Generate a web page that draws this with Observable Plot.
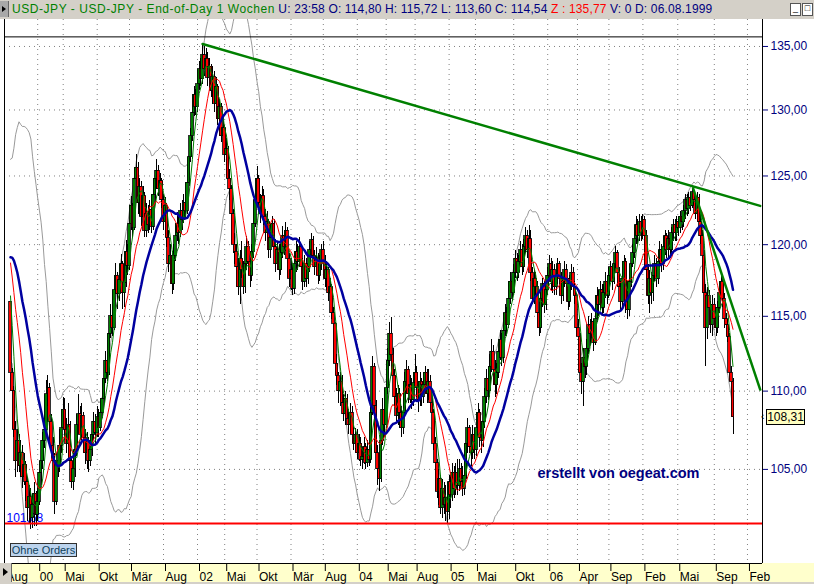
<!DOCTYPE html>
<html><head><meta charset="utf-8">
<script src="https://cdn.jsdelivr.net/npm/d3@7"></script>
<script src="https://cdn.jsdelivr.net/npm/@observablehq/plot@0.6"></script>
<style>
body{margin:0;background:#fff;}
#wrap{position:relative;width:814px;height:584px;overflow:hidden;font-family:"Liberation Sans",Arial,sans-serif;background:#fff;}
#hdr{position:absolute;left:0;top:0;width:814px;height:19px;background:#d4d0c8;font-size:12px;line-height:18px;white-space:nowrap;}
#hdr .btn{position:absolute;left:0;top:1px;width:8px;height:16px;background:#a8a8a8;border-right:1px solid #666;}
#hdr .btn:after{content:"";position:absolute;left:2px;top:5px;border-left:4px solid #000;border-top:3px solid transparent;border-bottom:3px solid transparent;}
#hdr .txt{position:absolute;left:12px;top:0;letter-spacing:0.15px;}
#hdr .txt .g{letter-spacing:0.55px;}
.g{color:#008000}.n{color:#000080}.r{color:#ff0000}
#hdr .wb{position:absolute;top:3px;width:9px;height:11px;background:#fff;border:1px solid #555;font-size:9px;line-height:9px;text-align:center;}
#band{position:absolute;left:0;top:563px;width:814px;height:19px;background:#ffffcc;}
#band2{position:absolute;left:0;top:582px;width:814px;height:2px;background:#d4d0c8;}
#lbtn{position:absolute;left:0;top:563px;width:11px;height:19px;background:#d4d0c8;border-right:1px solid #666;}
#lbtn:after{content:"";position:absolute;left:3px;top:5px;border-left:5px solid #000;border-top:4px solid transparent;border-bottom:4px solid transparent;}
#chart{position:absolute;left:0;top:19px;}
#orders{position:absolute;left:10px;top:543px;width:65px;height:12px;background:#bcd4ee;border:1px solid #303030;font-size:11px;line-height:12px;text-align:center;color:#10405a;}
#last{position:absolute;left:766px;width:39px;height:16px;background:#ffffc0;border:1px solid #000;font-size:12px;line-height:14px;text-align:center;color:#000;box-sizing:border-box;}
#arrow{position:absolute;left:761px;font-size:10px;line-height:10px;color:#000;}
</style></head>
<body>
<div id="wrap">
  <div id="band"></div><div id="band2"></div>
  <div id="chart"></div>
  <div id="lbtn"></div>
  <div id="hdr"><div class="btn"></div>
    <div class="txt"><span class="g">USD-JPY - USD-JPY - End-of-Day 1 Wochen</span> <span class="n">U: 23:58 O: 114,80 H: 115,72 L: 113,60 C: 114,54</span> <span class="r">Z : 135,77</span> <span class="n">V: 0 D: 06.08.1999</span></div>
    <div class="wb" style="left:790px">_</div><div class="wb" style="left:802px">□</div>
  </div>
  <div id="orders">Ohne Orders</div>
</div>
<script>
// ---- data (weekly USD-JPY) ----
// weeks before the first visible bar (only used by the moving averages / bands)
const preCloses = [110.6,113.0,115.6,118.4,120.6,124.0,123.4,119.6,120.2,121.0,119.8,121.6,125.7,
                   122.8,121.6,120.4,118.6,117.9,119.8,121.4,118.6,120.2,117.8,116.8,116.0];
const closes = [
111.2,110.0,107.5,105.5,106.8,105.2,106.0,104.5,105.3,104.2,
102.6,103.3,102.0,102.8,103.5,102.2,103.0,104.8,105.5,106.8,
107.5,109.8,110.2,108.0,106.5,105.5,103.0,105.5,105.2,106.5,
107.6,108.8,107.5,106.6,107.8,105.5,104.2,105.0,106.2,107.8,
108.5,107.2,108.4,107.0,106.0,106.8,105.5,106.2,107.2,108.0,
107.3,108.3,107.6,108.6,109.5,110.8,112.0,111.2,113.8,115.0,
114.2,116.8,117.8,116.5,117.5,118.6,116.6,117.3,119.5,118.5,
121.5,122.8,121.2,124.8,125.6,123.0,124.2,122.0,123.5,121.0,
122.2,121.4,122.5,121.3,123.6,124.8,125.4,124.0,124.6,123.2,
121.6,122.8,120.5,118.6,119.2,117.2,119.2,120.6,121.5,120.8,
122.4,121.8,123.0,122.4,124.5,126.4,128.0,129.8,131.2,130.2,
132.0,133.2,132.4,134.3,133.2,134.0,132.5,133.4,131.5,132.6,
130.5,131.8,129.3,130.2,128.0,128.6,126.6,127.0,124.8,124.0,
122.2,120.0,119.5,118.4,117.0,119.0,118.2,117.0,118.6,119.8,
118.8,117.8,119.5,121.5,123.2,124.8,123.0,122.2,123.5,122.0,
120.8,121.6,119.6,120.5,121.5,119.8,118.6,119.6,118.2,119.4,
120.6,119.8,121.0,119.0,117.6,118.2,116.9,118.6,119.5,118.8,
119.8,118.4,117.4,118.6,117.6,118.4,119.6,120.3,119.2,118.4,
119.0,117.8,118.6,119.6,118.8,117.6,118.2,116.6,117.0,115.2,
114.5,111.8,111.0,110.0,110.6,109.2,108.5,109.5,108.2,107.8,
108.6,107.2,106.6,107.2,106.0,106.6,105.6,105.8,106.4,105.4,
106.2,105.6,108.6,111.6,109.0,106.0,105.0,104.4,106.8,108.8,
107.8,110.2,112.0,113.8,112.4,111.0,109.6,108.4,109.8,108.6,
107.6,108.6,110.6,111.4,109.8,110.4,109.4,110.5,111.2,110.2,
109.4,110.6,109.6,110.4,111.2,109.8,110.6,109.2,108.6,106.6,
105.4,103.6,104.4,102.6,103.8,102.8,103.2,102.4,104.2,103.4,
104.8,103.8,104.8,104.0,105.0,104.2,103.8,104.6,106.6,107.6,
106.4,106.0,107.2,106.2,107.6,108.6,107.0,106.8,108.0,109.6,
110.8,110.0,111.6,112.6,111.4,110.4,111.2,112.6,113.4,112.2,
114.0,115.2,114.4,116.2,117.4,116.6,118.0,119.0,118.0,118.8,
119.6,118.4,119.8,120.6,119.6,120.4,118.0,116.2,117.6,117.0,
115.2,114.2,116.2,117.2,115.8,116.8,117.8,118.6,117.4,118.2,
117.0,117.8,118.6,117.6,116.4,117.4,118.2,117.2,116.0,117.2,
118.0,117.0,116.4,114.2,113.6,111.2,110.6,112.2,111.6,112.8,
114.4,113.8,114.6,113.2,114.8,116.4,115.8,116.8,115.6,116.6,
117.4,116.4,117.8,118.4,117.4,118.6,119.4,118.0,117.0,116.0,
117.6,118.8,116.0,115.4,117.4,118.6,119.4,120.4,121.4,120.6,
121.6,120.8,121.8,120.6,118.2,116.4,117.6,116.6,117.8,118.6,
117.6,118.8,119.6,118.6,119.8,120.6,119.6,120.4,119.6,120.8,
121.4,120.8,121.6,121.2,122.0,121.6,122.4,123.2,122.6,123.4,
122.8,123.8,123.2,122.2,123.4,121.6,120.6,119.2,116.6,114.2,
116.4,115.6,114.4,115.8,114.8,114.2,115.6,116.6,117.4,116.2,
114.8,114.4,113.6,111.2,110.6,108.31];
const highs = [
112.0,111.5,110.3,108.0,107.5,107.2,106.8,106.5,106.0,105.5,
104.5,104.0,103.8,103.5,104.2,103.6,103.8,105.3,106.0,107.3,
108.2,110.7,111.0,110.5,108.5,107.0,106.0,106.0,106.5,107.5,
108.2,109.6,109.5,108.2,109.2,108.0,105.8,105.5,106.8,108.5,
109.8,109.0,109.2,108.6,107.5,107.3,107.0,107.0,107.8,108.6,
108.5,109.0,108.8,109.2,110.2,111.4,112.6,112.4,114.5,115.8,
115.5,117.5,118.7,118.0,118.2,119.3,118.8,118.0,120.3,120.0,
122.0,123.5,123.0,125.5,126.6,126.0,124.8,124.6,124.2,123.8,
123.0,122.8,123.2,123.0,124.0,125.4,126.2,125.8,125.2,124.8,
123.6,123.4,123.0,121.0,120.0,119.5,120.0,121.2,122.3,122.0,
123.0,123.2,123.6,123.8,125.0,127.0,128.6,130.5,131.8,131.6,
132.6,133.8,134.0,135.2,135.0,134.8,134.5,134.0,133.6,133.4,
133.0,132.5,132.0,130.8,130.5,129.4,128.8,127.8,127.2,125.5,
124.3,122.5,120.8,120.0,119.0,119.6,120.2,118.8,119.4,120.6,
120.2,119.4,120.0,122.0,123.8,125.7,125.0,123.6,124.2,124.0,
122.5,122.4,121.8,121.2,122.0,121.8,120.4,120.2,120.0,120.0,
121.3,121.0,121.6,121.2,119.4,119.0,118.6,119.2,120.2,120.0,
120.5,120.0,119.0,119.2,119.0,119.0,120.2,120.8,120.6,119.6,
119.8,119.4,119.2,120.0,120.2,119.2,118.8,118.4,117.6,117.2,
115.6,114.6,112.4,111.2,111.2,111.0,109.8,110.0,109.8,108.8,
109.2,109.0,107.8,107.6,107.5,107.2,107.0,106.4,107.0,106.6,
106.8,106.6,109.4,112.3,111.8,109.4,106.5,105.6,107.4,109.5,
109.4,110.8,112.8,114.6,114.9,112.8,111.4,110.2,110.4,110.2,
109.0,109.2,111.2,112.0,111.6,111.0,110.8,111.2,112.4,111.6,
110.6,111.2,110.8,111.2,111.6,111.4,111.4,111.0,109.6,108.8,
107.0,105.6,105.0,104.6,104.4,104.2,104.0,103.6,104.6,104.8,
105.4,105.2,105.4,105.6,105.6,105.4,105.2,105.2,107.2,108.2,
107.8,107.0,107.8,107.6,108.2,109.2,108.8,107.6,108.6,110.2,
111.4,111.2,112.4,113.4,113.0,112.0,111.8,113.2,114.0,113.8,
114.6,115.8,115.6,116.8,118.0,118.0,118.6,119.6,119.4,119.2,
120.2,120.0,120.4,121.2,121.0,121.4,121.0,118.4,118.2,118.0,
117.4,115.8,116.8,117.6,117.4,117.4,118.4,119.2,119.0,118.8,
118.6,118.4,119.0,118.8,118.0,118.0,118.8,118.6,117.6,117.8,
118.6,118.4,117.4,116.6,114.8,113.8,111.8,112.8,112.6,113.4,
115.0,114.8,115.2,114.8,115.4,117.0,116.8,117.4,117.2,117.2,
118.0,117.8,118.4,118.8,118.6,119.2,119.9,119.6,118.4,117.4,
118.2,119.2,119.0,116.4,118.0,119.2,120.0,121.0,122.0,121.8,
122.2,122.0,122.2,122.0,121.0,118.6,118.2,118.0,118.4,119.2,
119.0,119.4,120.2,120.0,120.4,121.0,120.8,121.0,120.8,121.2,
121.8,121.8,122.0,122.0,122.4,122.4,122.8,123.6,123.6,123.8,
123.8,124.1,124.2,123.6,123.8,123.6,122.2,121.0,119.6,117.2,
117.0,116.8,116.0,116.4,116.2,115.4,116.0,117.2,117.9,117.6,
116.6,115.2,114.8,113.8,111.6,110.8];
const lows = [
110.3,109.6,107.0,104.5,104.8,104.8,104.5,103.8,104.0,103.0,
101.8,101.6,101.3,101.4,101.5,101.5,101.8,102.8,104.0,105.0,
106.3,107.2,109.0,107.6,105.8,105.0,102.2,102.8,104.5,104.8,
106.0,107.5,106.8,106.0,106.3,104.8,103.8,103.7,104.5,105.8,
107.5,106.8,106.8,106.5,105.3,105.0,104.8,105.2,105.8,106.8,
106.6,107.0,107.0,107.4,108.2,109.2,110.5,110.6,111.0,113.5,
113.6,114.0,116.5,115.5,116.0,117.2,115.5,115.6,117.0,117.8,
118.2,121.0,120.5,121.0,123.5,122.2,122.0,121.3,121.0,120.5,
120.5,120.8,121.0,120.8,121.0,123.0,124.0,123.5,123.2,122.6,
121.0,121.2,119.8,118.0,118.0,116.5,116.8,118.8,120.2,120.0,
120.5,121.0,121.5,121.8,122.2,124.2,126.0,127.6,129.5,129.6,
129.8,131.5,131.8,132.0,132.6,132.8,131.8,131.8,131.0,130.4,
129.8,130.0,128.8,128.6,127.5,127.2,126.0,125.6,124.2,123.2,
121.8,119.4,118.6,117.6,116.4,115.8,117.6,116.5,116.6,118.2,
118.0,117.0,117.4,119.0,121.2,122.8,122.5,121.5,121.8,121.4,
120.2,120.4,119.0,119.0,120.0,119.2,118.0,118.2,117.5,117.8,
119.0,119.2,119.5,118.4,117.0,116.8,116.4,116.5,118.0,118.2,
118.4,117.8,116.8,117.0,117.0,117.2,118.0,119.0,118.6,117.8,
118.0,117.2,117.4,118.2,118.2,117.0,116.8,116.0,115.8,114.8,
113.8,111.4,110.4,109.2,109.0,108.6,108.0,107.8,107.8,107.2,
107.4,106.8,106.2,106.0,105.6,105.5,105.2,105.0,105.3,105.0,
105.1,105.2,105.4,108.4,108.4,105.4,104.0,103.6,104.2,106.5,
107.0,107.6,109.8,111.6,111.8,110.4,109.0,108.0,107.8,107.6,
107.0,107.2,108.4,110.0,109.2,109.2,108.8,109.0,110.2,109.6,
108.6,109.0,109.0,109.2,110.0,109.2,109.4,108.8,107.6,106.2,
104.8,103.2,102.8,102.2,102.0,102.2,101.8,101.7,101.9,102.6,
103.0,103.2,103.4,103.4,103.6,103.8,103.3,103.4,104.4,106.0,
106.0,105.2,105.6,105.6,105.8,107.2,106.4,106.0,106.4,107.6,
109.2,109.4,109.6,111.2,110.8,109.6,109.8,110.8,112.0,111.6,
111.8,113.6,113.6,114.2,115.8,116.0,116.4,117.6,117.4,117.6,
118.4,117.8,118.0,119.4,119.0,119.2,117.4,115.8,115.8,116.2,
114.6,113.6,113.8,115.6,115.2,115.4,116.4,117.4,116.8,116.6,
116.4,116.4,117.2,117.0,115.8,116.0,117.0,116.6,115.4,115.6,
116.8,116.4,115.8,113.8,113.0,110.6,109.8,109.0,110.8,111.0,
112.4,113.0,113.2,112.6,113.0,114.6,115.0,115.4,115.0,115.2,
116.2,115.8,116.2,117.4,116.8,117.2,118.2,117.4,116.4,115.4,
115.6,117.2,115.2,114.8,115.0,117.0,118.4,119.0,120.0,120.0,
120.2,120.2,120.4,120.0,117.6,115.8,115.2,115.8,116.0,117.4,
117.0,117.2,118.2,118.0,118.2,119.2,119.0,119.0,119.0,119.2,
120.2,120.2,120.2,120.6,120.8,121.0,121.2,121.8,122.0,122.2,
122.4,122.6,122.8,121.8,121.6,121.0,120.0,118.6,115.8,111.6,
113.4,114.6,113.8,113.6,114.2,113.6,113.8,115.2,116.2,115.6,
114.2,113.6,113.2,110.6,110.0,107.2];
// time axis: bar index of each labelled tick and its label
const tickIdx = [-3.5,16,31,51,70,90,110,126,145,165,184,204,221,238,258,273.5,296,316,333.5,352,372,392.5,414,433.5];
const tickLbl = ["Aug","00","Mai","Okt","Mär","Aug","02","Mai","Okt","Mär","Aug","04","Mai","Aug","05","Mai","Okt","06","Apr","Sep","Feb","Mai","Sep","Feb"];
const priceTicks = [105,110,115,120,125,130,135];
// drawn lines (bar index, price)
const trendA = [{i:113, v:135.2},{i:441, v:122.8}];
const trendB = [{i:401.5, v:124.1},{i:441, v:110.1}];
const highLine = 135.77;
const lowLine = 101.68;
const annotations = [{i:310, v:104.75, t:"erstellt von oegeat.com"}];
// indicator periods: fast / medium / slow moving average, Bollinger period
const periods = {fast: 5, mid: 13, slow: 26, bb: 26};

// ---- derived indicators ----
const P = preCloses.length;
const all = preCloses.concat(closes);
function smaAt(j, n){let s=0;for(let k=j-n+1;k<=j;k++)s+=all[k];return s/n;}
function series(n){return closes.map((c,i)=>({i, v: smaAt(i+P,n)}));}
const maF = series(periods.fast), maM = series(periods.mid), maS = series(periods.slow);
const bbU = [], bbL = [];
closes.forEach((c,i)=>{const n=periods.bb;const j=i+P;const m=smaAt(j,n);let s=0;for(let k=j-n+1;k<=j;k++)s+=(all[k]-m)**2;const sd=Math.sqrt(s/n);bbU.push({i,v:m+2*sd});bbL.push({i,v:m-2*sd});});
const bars = closes.map((c,i)=>{const o = i? closes[i-1] : preCloses[P-1];return {i,o,c,h:Math.max(highs[i],o,c),l:Math.min(lows[i],o,c)};});

const xDomain = [-3.53, 442.35];
const yDomain = [99.29, 137.18];
const lblMap = new Map(tickIdx.map((d,k)=>[d,tickLbl[k]]));
const fmt = d => d.toFixed(2).replace(".", ",");

const plot = Plot.plot({
  width: 814, height: 565,
  marginTop: 0, marginBottom: 21, marginLeft: 4, marginRight: 52,
  style: {background: "transparent", fontFamily: "Liberation Sans, Arial, sans-serif", overflow: "visible"},
  x: {type: "linear", domain: xDomain},
  y: {type: "log", domain: yDomain},
  marks: [
    Plot.ruleY(priceTicks, {stroke: "#808080", strokeDasharray: "1,4"}),
    Plot.ruleX(tickIdx.slice(1), {stroke: "#808080", strokeDasharray: "1,4"}),
    Plot.line(bbU, {x: "i", y: "v", stroke: "#9a9a9a", strokeWidth: 1, clip: true}),
    Plot.line(bbL, {x: "i", y: "v", stroke: "#9a9a9a", strokeWidth: 1, clip: true}),
    Plot.text([lowLine], {x: xDomain[0], y: d => d, text: d => fmt(d), textAnchor: "start", lineAnchor: "bottom", dx: 2, dy: -1, fill: "#0000ff", fontSize: 12}),
    Plot.ruleX(bars, {x: "i", y1: "l", y2: "h", stroke: "#000", strokeWidth: 1, shapeRendering: "crispEdges"}),
    Plot.rect(bars, {x1: d => d.i - 0.8, x2: d => d.i + 0.8, y1: "o", y2: "c", fill: d => d.c >= d.o ? "#008000" : "#ff0000", stroke: "#000", strokeWidth: 0.8, shapeRendering: "crispEdges"}),
    Plot.line(maF, {x: "i", y: "v", stroke: "#008000", strokeWidth: 1}),
    Plot.line(maM, {x: "i", y: "v", stroke: "#ff0000", strokeWidth: 1}),
    Plot.line(maS, {x: "i", y: "v", stroke: "#0000a0", strokeWidth: 2.5}),
    Plot.line(trendA, {x: "i", y: "v", stroke: "#008000", strokeWidth: 2.5, clip: true}),
    Plot.line(trendB, {x: "i", y: "v", stroke: "#008000", strokeWidth: 2.5, clip: true}),
    Plot.ruleY([highLine], {stroke: "#000", strokeWidth: 1}),
    Plot.ruleY([lowLine], {stroke: "#ff0000", strokeWidth: 2}),
    Plot.text(annotations, {x: "i", y: "v", text: "t", textAnchor: "start", fill: "#000080", fontWeight: "bold", fontSize: 14.5}),
    Plot.ruleX([xDomain[0], xDomain[1]], {stroke: "#000"}),
    Plot.ruleY([yDomain[0]], {stroke: "#000"}),
    Plot.axisY(priceTicks, {anchor: "right", tickSize: 5, tickPadding: 3, tickFormat: fmt, color: "#000080", fontSize: 12, label: null}),
    Plot.axisX(tickIdx, {anchor: "bottom", tickSize: 8, tickPadding: 1, tickFormat: d => lblMap.get(d), textAnchor: "start", dx: 2, color: "#000", fontSize: 12, label: null})
  ]
});
document.getElementById("chart").appendChild(plot);

// last price tag on the right axis
const yS = plot.scale("y");
const last = closes[closes.length - 1];
const yy = 19 + yS.apply(last);
const tag = document.createElement("div");
tag.id = "last"; tag.style.top = (yy - 8) + "px"; tag.textContent = fmt(last);
document.getElementById("wrap").appendChild(tag);
const ar = document.createElement("div");
ar.id = "arrow"; ar.style.top = (yy - 5) + "px"; ar.textContent = "‹";
document.getElementById("wrap").appendChild(ar);
</script>
</body></html>
